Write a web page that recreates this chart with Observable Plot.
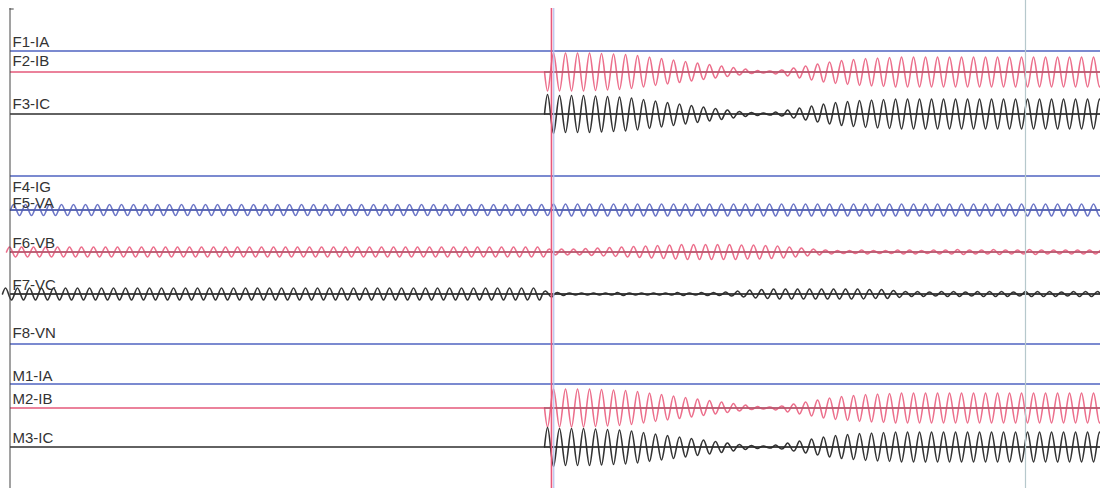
<!DOCTYPE html>
<html><head><meta charset="utf-8">
<script src="https://cdn.jsdelivr.net/npm/d3@7"></script>
<script src="https://cdn.jsdelivr.net/npm/@observablehq/plot@0.6"></script>
<style>body{margin:0;background:#fff;overflow:hidden}</style>
</head><body><div id="chart"></div>
<script>
// ---- DATA (time in 60 Hz cycles from the left edge; amplitudes in chart divisions) ----
const channelNames = ["F1-IA","F2-IB","F3-IC","F4-IG","F5-VA","F6-VB","F7-VC","F8-VN","M1-IA","M2-IB","M3-IC"];
const channelPhase = ["A","B","C","G","A","B","C","N","A","B","C"];
const timeDomain = [0, 90.83];
const faultCurrentStart = 44.5;   // cycle where the fault current appears
const markerTimes = [45.08, 45.27, 84.58]; // trigger cursor, reference cursor, end cursor
const markerKinds = ["trigger","reference","end"];

// per-cycle peak amplitude of each current waveform (from cycle 44.5 on)
const f2IB = [19,19,19,19,18.5,18,17.5,16.5,15,13.5,12,10.5,9,7.5,6,4.5,3,1.5,1,2,4,6,8,10,11.5,12.5,13.5,14,14.5,15,
  15,15,15,15,15,15,15,15,15,15,15,15,15,15,15,15,15];
const f3IC = [19.5,18.5,18.5,18.5,18,17.5,17,16,14.5,13,11.5,10,8.5,7,5.5,4,2.5,1.5,1,2,4,6,8,10,11.5,12.5,13.5,14,14.5,15,
  15,15,15,15,15,15,15,15,15,15,15,15,15,15,15,15,15];
const m2IB = [19,19,19,19,18.5,18,17.5,16.5,15,13.5,12,10.5,9,7.5,6,4.5,3,1.5,1,2,4,6,8,10,11.5,12.5,13.5,14,14.5,15,
  15,15,15,15,15,15,15,15,15,15,15,15,15,15,15,15,15];
const m3IC = [19.5,18.5,18.5,18.5,18,17.5,17,16,14.5,13,11.5,10,8.5,7,5.5,4,2.5,1.5,1,2,4,6,8,10,11.5,12.5,13.5,14,14.5,15,
  15,15,15,15,15,15,15,15,15,15,15,15,15,15,15,15,15];

// per-cycle peak amplitude of each voltage waveform (whole record)
const f5VA = [5.5,5.5,5.5,5.5,5.5,5.5,5.5,5.5,5.5,5.5, 5.5,5.5,5.5,5.5,5.5,5.5,5.5,5.5,5.5,5.5,
  5.5,5.5,5.5,5.5,5.5,5.5,5.5,5.5,5.5,5.5, 5.5,5.5,5.5,5.5,5.5,5.5,5.5,5.5,5.5,5.5,
  5.5,5.5,5.5,5.5,5.5,6,6,6,6,6, 6,6,6,6,6,6,6,6,6,6, 6,6,6,6,6,6,6,6,6,6,
  6,6,6,6,6,6,6,6,6,6, 6,6,6,6,6,6,6,6,6,6, 6,6];
const f6VB = [5,5,5,5,5,5,5,5,5,5, 5,5,5,5,5,5,5,5,5,5, 5,5,5,5,5,5,5,5,5,5, 5,5,5,5,5,5,5,5,5,5,
  5,5,5,5,5,3,3,3,3.5,4, 4.5,5,5.5,6,6.5,7,7.5,7.5,7.5,7.5, 7.5,7,7,6.5,6,5,4,3,2,1.5,
  1.5,2,1.5,1.5,2,2,1.5,2,2,2.5, 2,2,2.5,2,2,2.5,2,2,2,2, 2,2];
const f7VC = [6,6,6,6,6,6,6,6,6,6, 6,6,6,6,6,6,6,6,6,6, 6,6,6,6,6,6,6,6,6,6, 6,6,6,6,6,6,6,6,6,6,
  6,6,6,6,6,3,1.5,1,1,1, 1,1.5,1,1,1,1,1.5,1,1.5,1.5, 2,3,4,4.5,5,5,5,5,5,5,
  5,5,4.5,4.5,3.5,2.5,2.5,2,2.5,2.5, 2,2.5,2.5,2.5,2,2.5,2.5,2.5,2,2.5, 2.5,2.5];

// ---- LAYOUT ----
const W = 1100, H = 488;
const baseY  = {"F1-IA":50.5,"F2-IB":71.5,"F3-IC":113.5,"F4-IG":175.5,"F5-VA":209.5,"F6-VB":251.5,"F7-VC":293.5,"F8-VN":343.5,"M1-IA":383.5,"M2-IB":407.5,"M3-IC":446.5};
const labelY = {"F1-IA":46,"F2-IB":65,"F3-IC":108,"F4-IG":191,"F5-VA":207,"F6-VB":247,"F7-VC":289,"F8-VN":337,"M1-IA":380,"M2-IB":403,"M3-IC":442};
const phaseColor = {A:"#4f63c0",B:"#e4587a",C:"#2e2e2e",G:"#4f63c0",N:"#4f63c0"};
const waveColor  = {A:"#6a74c6",B:"#ec6f8c",C:"#333333",G:"#6a74c6",N:"#6a74c6"};
const centerColor= {A:"#36418c",B:"#7a3a48",C:"#222222",G:"#36418c",N:"#36418c"};

const waves = [
  {name:"F2-IB", start:faultCurrentStart, sign:-1, amps:f2IB},
  {name:"F3-IC", start:faultCurrentStart, sign: 1, amps:f3IC},
  {name:"M2-IB", start:faultCurrentStart, sign:-1, amps:m2IB},
  {name:"M3-IC", start:faultCurrentStart, sign: 1, amps:m3IC},
  {name:"F5-VA", start:0,    sign:1, amps:f5VA},
  {name:"F6-VB", start:-1/3, sign:1, amps:f6VB},
  {name:"F7-VC", start:-2/3, sign:1, amps:f7VC}
];
const phaseOf = Object.fromEntries(channelNames.map((n,i)=>[n,channelPhase[i]]));

const channels = channelNames.map((n,i)=>({name:n, phase:channelPhase[i]}));
const wavePts = [];
for (const w of waves) {
  w.amps.forEach((A,k)=>{
    const t = w.start + k;
    wavePts.push({name:w.name,t,v:0},{name:w.name,t:t+0.25,v:w.sign*A},{name:w.name,t:t+0.5,v:0},{name:w.name,t:t+0.75,v:-w.sign*A});
  });
  wavePts.push({name:w.name,t:w.start+w.amps.length,v:0});
}
const markers = markerTimes.map((t,i)=>({t, kind:markerKinds[i]}));
const markerStyle = {trigger:{stroke:"#e8587a",w:1.6,y1:8}, reference:{stroke:"#b4c0ee",w:1.2,y1:8}, end:{stroke:"#b6c8cc",w:1.2,y1:0}};

const chart = Plot.plot({
  width: W, height: H, margin: 0,
  x: {domain: timeDomain, range: [10, W], axis: null},
  y: {domain: [0, H], range: [0, H], axis: null},
  style: {background: "#fff"},
  marks: [
    Plot.ruleY(channels, {y: d=>baseY[d.name], x1: timeDomain[0], x2: timeDomain[1], stroke: d=>phaseColor[d.phase], strokeWidth: 1.3}),
    Plot.line(wavePts, {x:"t", y: d=>baseY[d.name]-d.v, z:"name", stroke: d=>waveColor[phaseOf[d.name]], strokeWidth:1.6, curve:"natural", clip:true}),
    Plot.ruleY(waves, {y: d=>baseY[d.name], x1: d=>Math.max(d.start, timeDomain[0]), x2: timeDomain[1], stroke: d=>centerColor[phaseOf[d.name]], strokeWidth: 1, strokeOpacity: 0.8}),
    Plot.ruleX(markers, {x:"t", y1: d=>markerStyle[d.kind].y1, y2: H, stroke: d=>markerStyle[d.kind].stroke, strokeWidth: d=>markerStyle[d.kind].w}),
    Plot.ruleX([timeDomain[0]], {dx:-0.5, y1: 8, y2: H, stroke:"#444", strokeWidth:1}),
    Plot.ruleY([8.5], {x1: timeDomain[0], x2: 0.35, dx:-0.5, stroke:"#444", strokeWidth:1}),
    Plot.text(channels, {x: timeDomain[0], y: d=>labelY[d.name], text:"name", dx: 2, textAnchor:"start", lineAnchor:"bottom", fill:"#333", fontSize: 15, fontFamily:"Liberation Sans, Arial, sans-serif"})
  ]
});
document.getElementById("chart").append(chart);
</script>
</body></html>
